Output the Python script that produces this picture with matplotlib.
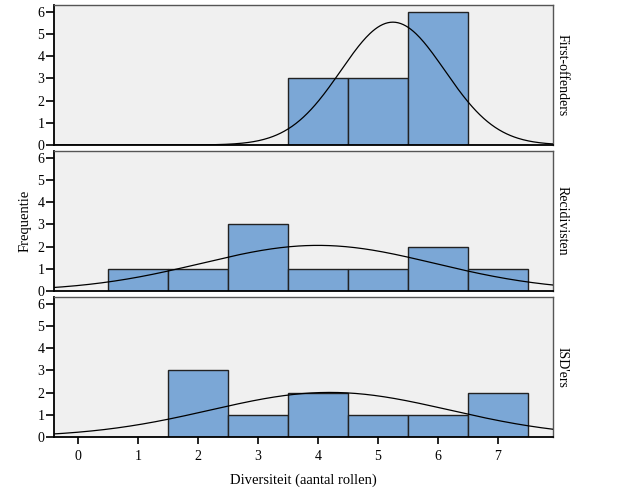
import numpy as np
import matplotlib.pyplot as plt

plt.rcParams['font.family'] = ['Liberation Serif', 'DejaVu Serif']

groups = ['First-offenders', 'Recidivisten', "ISD'ers"]
values = [1, 2, 3, 4, 5, 6, 7]
counts = [
    [0, 0, 0, 3, 3, 6, 0],
    [1, 1, 3, 1, 1, 2, 1],
    [0, 3, 1, 2, 1, 1, 2],
]

bar_color = '#7ba7d6'
bg = '#f0f0f0'

fig = plt.figure(figsize=(6.26, 5), dpi=100)
left, right = 54 / 626, 553 / 626
tops = [5, 151, 297]
h = 140

axes = []
for i, (name, c) in enumerate(zip(groups, counts)):
    ax = fig.add_axes([left, 1 - (tops[i] + h) / 500, right - left, h / 500])
    axes.append(ax)
    ax.set_facecolor(bg)
    ax.bar(values, c, width=1.0, color=bar_color, edgecolor='#222222', linewidth=1, zorder=2)

    # normale curve op basis van de frequenties
    x = np.repeat(values, c)
    m, s = x.mean(), x.std(ddof=1)
    xs = np.linspace(-0.5, 8, 400)
    ys = len(x) / (s * np.sqrt(2 * np.pi)) * np.exp(-0.5 * ((xs - m) / s) ** 2)
    ax.plot(xs, ys, color='black', linewidth=0.9, zorder=3)

    ax.set_xlim(-0.4, 7.92)
    ax.set_ylim(0, 6.3)
    ax.set_yticks(range(7))
    ax.tick_params(axis='y', length=6, width=1.2, labelsize=10, pad=1)
    for sp in ['top', 'right']:
        ax.spines[sp].set_color('#555555')
        ax.spines[sp].set_linewidth(1)
    for sp in ['left', 'bottom']:
        ax.spines[sp].set_color('black')
        ax.spines[sp].set_linewidth(1.3)
    ax.text(1.006, 0.5, name, transform=ax.transAxes, rotation=-90,
            va='center', ha='left', fontsize=10)
    if i < 2:
        ax.set_xticks([])
    else:
        ax.set_xticks(range(8))
        ax.tick_params(axis='x', length=5, width=1.2, labelsize=10, pad=4)
        ax.set_xlabel('Diversiteit (aantal rollen)', fontsize=10.5, labelpad=8)

fig.text(25 / 626, 1 - 221 / 500, 'Frequentie', rotation=90, va='center', ha='center', fontsize=10.5)

fig.savefig('out.png', dpi=100)
